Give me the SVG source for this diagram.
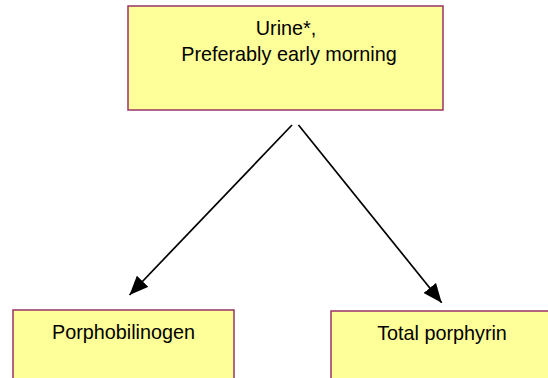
<svg xmlns="http://www.w3.org/2000/svg" width="548" height="378" viewBox="0 0 548 378">
<style>
.box{fill:#FFFF99;stroke:#993366;stroke-width:1.5}
.t{font-family:"Liberation Sans",Arial,sans-serif;font-size:19.8px;fill:#000;text-anchor:middle}
.c{stroke:#000;stroke-width:1.7;fill:none;marker-end:url(#ah)}
</style>
<defs>
<marker id="ah" markerUnits="userSpaceOnUse" markerWidth="22" markerHeight="18" refX="19" refY="8" orient="auto">
<path d="M0,0 L19,8 L0,16 Z" fill="#000"/>
</marker>
</defs>
<rect width="548" height="378" fill="#fff"/>
<g id="urine">
<rect class="box" x="128" y="6" width="315" height="104"/>
<text class="t" x="286" y="35">Urine*,</text>
<text class="t" x="289" y="60.5">Preferably early morning</text>
</g>
<g id="porphobilinogen">
<rect class="box" x="13" y="310" width="221" height="80"/>
<text class="t" x="123.5" y="339">Porphobilinogen</text>
</g>
<g id="total-porphyrin">
<rect class="box" x="331" y="311" width="222" height="80"/>
<text class="t" x="442" y="340">Total porphyrin</text>
</g>
<g id="connectors">
<line class="c" x1="292" y1="125" x2="129.5" y2="295"/>
<line class="c" x1="298.5" y1="125" x2="441.7" y2="302.7"/>
</g>
</svg>
